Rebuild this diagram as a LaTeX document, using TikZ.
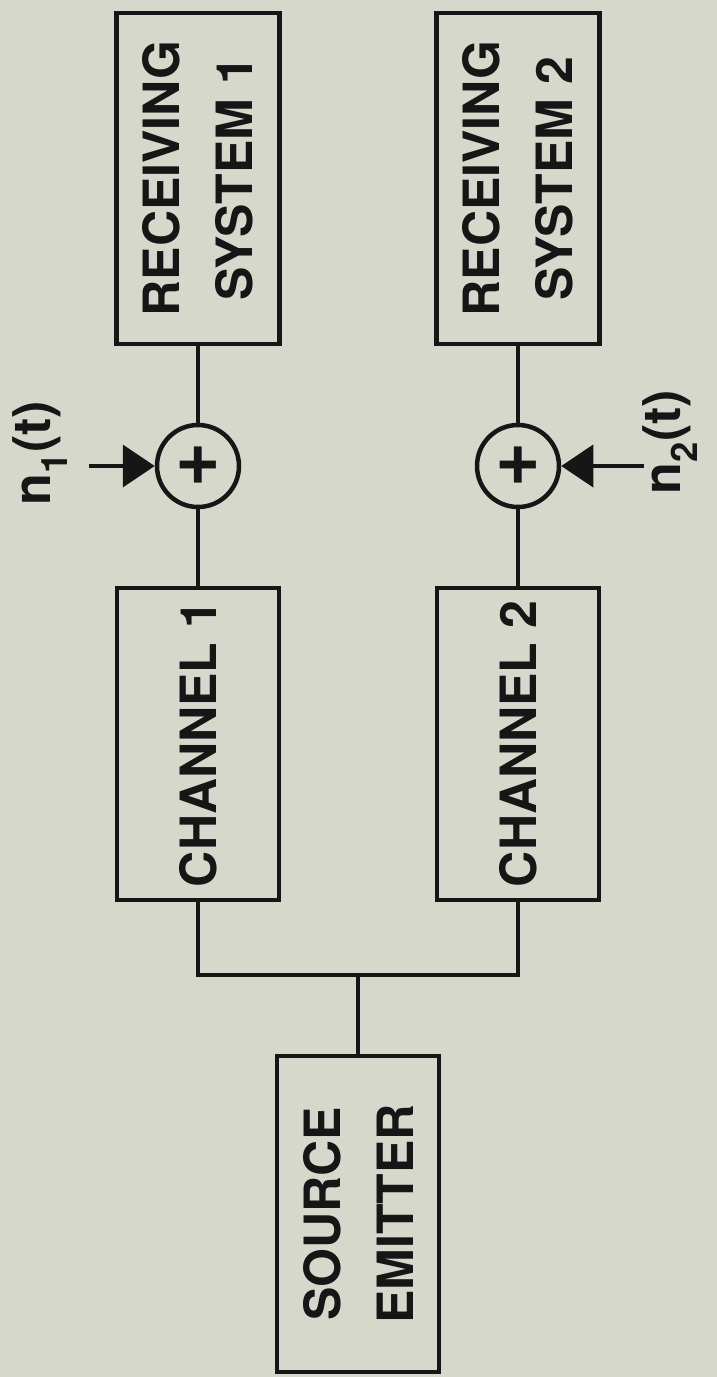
\documentclass[tikz,border=0pt]{standalone}
\usepackage{fontspec}
\setmainfont{TeX Gyre Heros}
\usepackage{tikz}
\usetikzlibrary{positioning,shapes,arrows,arrows.meta}
\definecolor{paper}{RGB}{215,216,204}
\definecolor{ink}{RGB}{22,22,22}

\begin{document}
\begin{tikzpicture}[x=1pt, y=-1pt,
    block/.style={draw=ink, line width=4.5pt, rotate=90, align=center, inner sep=0pt,
        text=ink, font=\fontsize{50}{73}\selectfont\bfseries},
    summer/.style={draw=ink, circle, line width=4.5pt, minimum size=82pt, inner sep=0pt,
        text=ink, font=\fontsize{78}{78}\selectfont\bfseries},
    wire/.style={draw=ink, line width=4pt},
    noise/.style={wire, -{Triangle[length=32pt, width=42pt]}},
    nlabel/.style={rotate=90, text=ink, font=\fontsize{52}{52}\selectfont\bfseries}]

% --- Page ---
\fill[paper] (0,0) rectangle (717,1377);
\useasboundingbox (0,0) rectangle (717,1377);

% --- Two receiving branches ---
\foreach \i/\x in {1/198, 2/518} {
    \node[block, minimum width=331pt, minimum height=163pt] (rs\i) at (\x,178.5)
        {RECEIVING\\SYSTEM \i};
    \node[summer] (sum\i) at (\x,466) {+};
    \node[block, minimum width=312pt, minimum height=162pt] (ch\i) at (\x,744)
        {CHANNEL \i};
    \draw[wire] (ch\i) -- (sum\i);
    \draw[wire] (sum\i) -- (rs\i);
}

% --- Source ---
\node[block, minimum width=316pt, minimum height=162pt] (src) at (358,1214)
    {SOURCE\\EMITTER};
\coordinate (split) at (358,975);
\draw[wire] (ch1) |- (split) -| (ch2);
\draw[wire] (split) -- (src);

% --- Noise inputs ---
\coordinate (n1in) at (89,466);
\coordinate (n2in) at (644,466);
\draw[noise] (n1in) -- (sum1);
\draw[noise] (n2in) -- (sum2);
\node[nlabel] (n1lbl) at (40,453) {n\textsubscript{1}(t)};
\node[nlabel] (n2lbl) at (670,442) {n\textsubscript{2}(t)};

\end{tikzpicture}
\end{document}
